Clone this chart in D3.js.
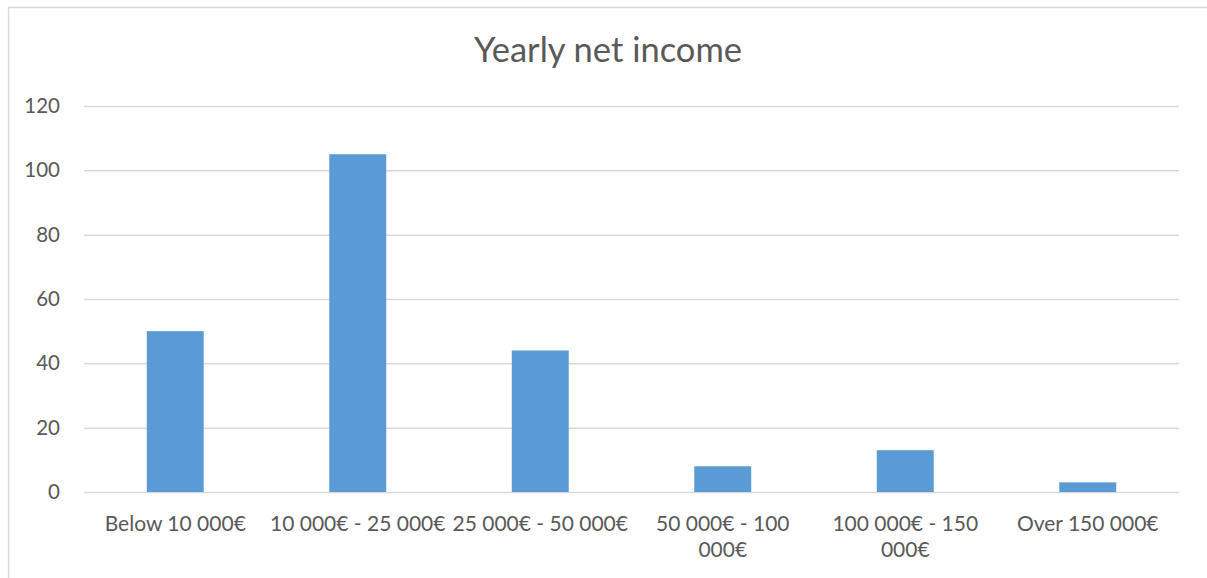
<!DOCTYPE html>
<html><head><meta charset="utf-8">
<script src="https://cdn.jsdelivr.net/npm/d3@7/dist/d3.min.js"></script>
<style>html,body{margin:0;padding:0;background:#fff;overflow:hidden}</style>
</head><body>
<script>
const categories = ["Below 10 000€","10 000€ - 25 000€","25 000€ - 50 000€","50 000€ - 100 000€","100 000€ - 150 000€","Over 150 000€"];
const categoryLines = [["Below 10 000€"],["10 000€ - 25 000€"],["25 000€ - 50 000€"],["50 000€ - 100","000€"],["100 000€ - 150","000€"],["Over 150 000€"]];
const values = [50, 105, 44, 8, 13, 3];
const yTicks = [0, 20, 40, 60, 80, 100, 120];
const title = "Yearly net income";

(function() {
const W = 1207, H = 578;
const font = "Lato, 'Open Sans', sans-serif";
const txt = "#595959";
const svg = d3.select("body").append("svg").attr("width", W).attr("height", H);
svg.append("rect").attr("x", 8.5).attr("y", 7.5).attr("width", 1205).attr("height", 600)
  .attr("fill", "#fff").attr("stroke", "#D9D9D9").attr("stroke-width", 1.5);

const pl = 84, pr = 1179, pt = 106, pb = 492;
const x = d3.scaleBand().domain(categories).range([pl, pr]).paddingInner(0.688).paddingOuter(0.344);
const y = d3.scaleLinear().domain([0, 120]).range([pb, pt]);

svg.append("text").attr("x", 608).attr("y", 62).attr("text-anchor", "middle")
  .attr("font-family", font).attr("font-size", 34.5).attr("fill", txt).text(title);

const ya = svg.append("g").attr("transform", `translate(${pl},0)`)
  .call(d3.axisLeft(y).tickValues(yTicks).tickSize(-(pr - pl)).tickPadding(24).tickFormat(d3.format("d")));
ya.select(".domain").remove();
ya.selectAll(".tick line").attr("stroke", "#D9D9D9").attr("stroke-width", 1.5);
ya.selectAll(".tick text").attr("font-family", font).attr("font-size", 20.5).attr("fill", txt);

svg.append("g").selectAll("rect").data(values).join("rect")
  .attr("x", (d, i) => x(categories[i])).attr("width", x.bandwidth())
  .attr("y", d => y(d)).attr("height", d => y(0) - y(d)).attr("fill", "#5B9BD5");

const xa = svg.append("g").attr("transform", `translate(0,${pb})`)
  .call(d3.axisBottom(x).tickSize(0).tickFormat(""));
xa.select(".domain").remove();
xa.selectAll(".tick").each(function(d, i) {
  const t = d3.select(this).append("text").attr("text-anchor", "middle")
    .attr("font-family", font).attr("font-size", 21).attr("fill", txt);
  categoryLines[i].forEach((ln, j) => t.append("tspan").attr("x", 0).attr("y", 39 + j * 26).text(ln));
});
})();
</script>
</body></html>
